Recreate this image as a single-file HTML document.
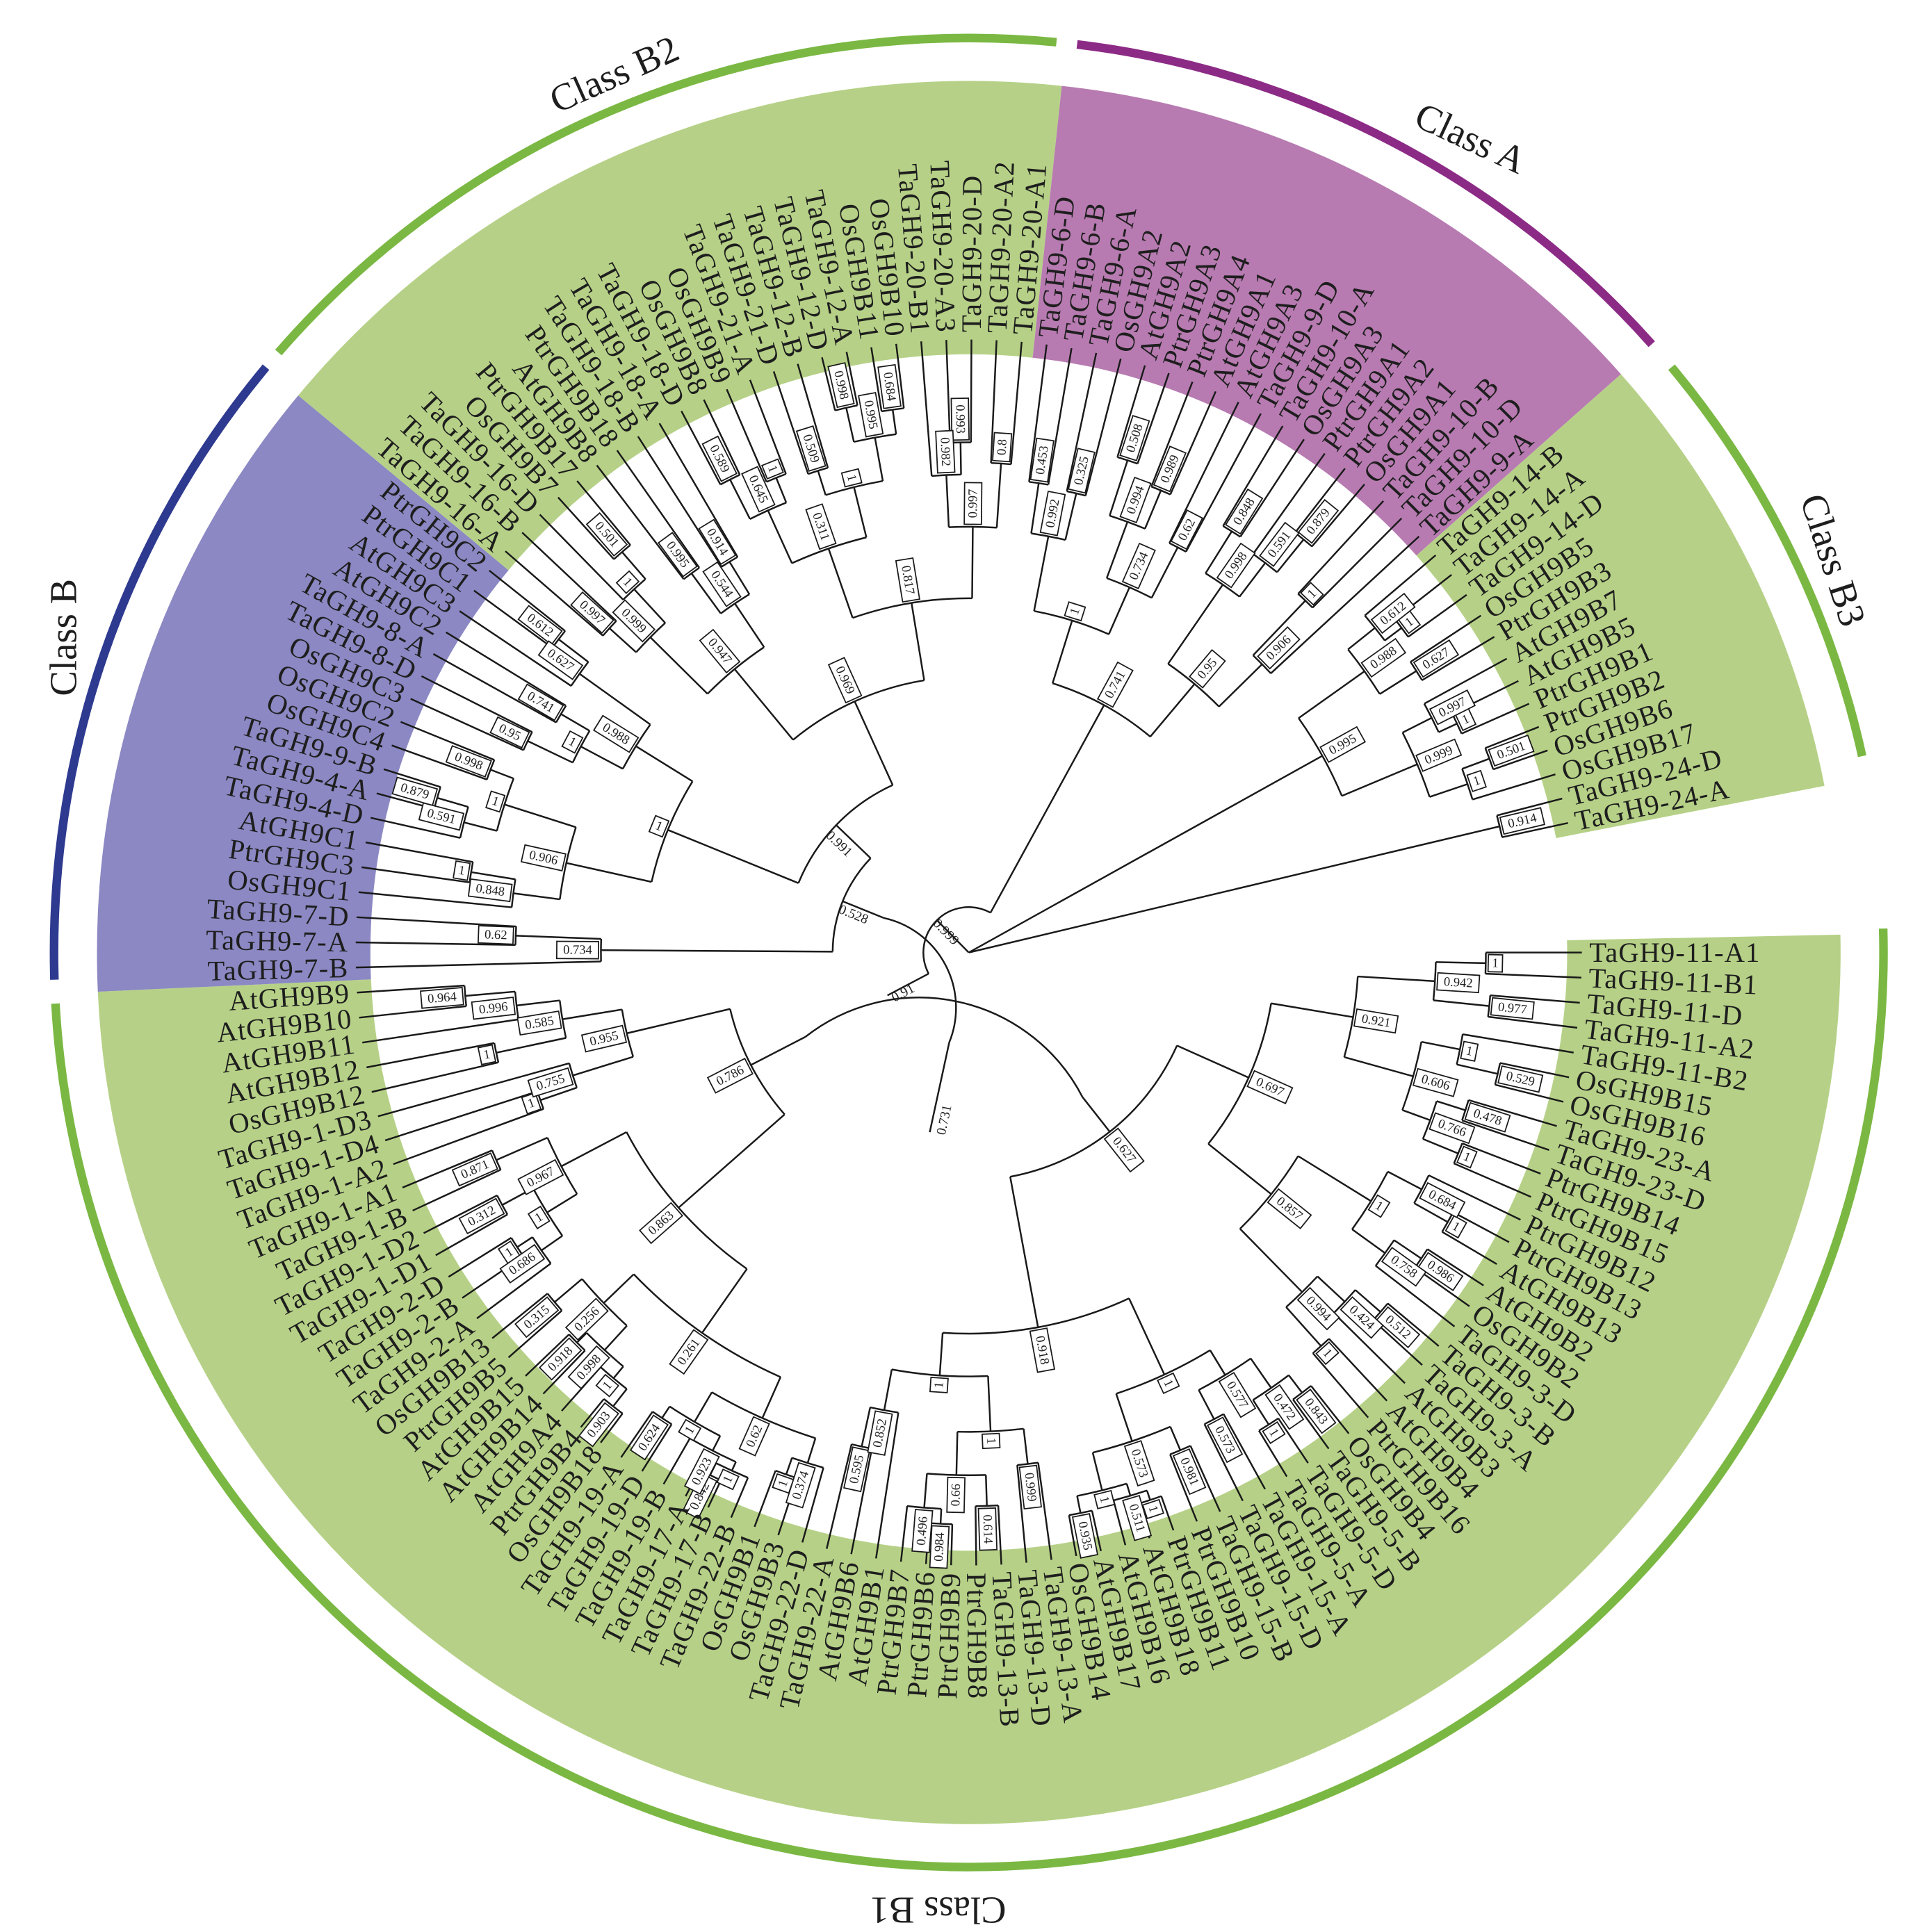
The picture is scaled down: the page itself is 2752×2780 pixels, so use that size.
<!DOCTYPE html>
<html><head><meta charset="utf-8">
<style>
html,body{margin:0;padding:0;background:#fff;}
svg{display:block;}
text{font-family:"Liberation Serif",serif;}
</style></head>
<body>
<svg id="s" xmlns="http://www.w3.org/2000/svg" width="2752" height="2780" viewBox="0 0 1560 1576">
<rect x="0" y="0" width="1560" height="1576" fill="#fff"/>
<g id="bg"></g>
<g id="arcs"></g>
<g id="tree" fill="none" stroke="#1a1a1a" stroke-width="1.4"></g>
<g id="boot"></g>
<g id="labels" fill="#1e1e1e" font-size="23" letter-spacing="0.6"></g>
<g fill="#1e1e1e" font-size="31">
<text x="505" y="70" text-anchor="middle" transform="rotate(-24 505 70)">Class B2</text>
<text x="1195" y="122" text-anchor="middle" transform="rotate(25 1195 122)">Class A</text>
<text x="1485" y="460" text-anchor="middle" transform="rotate(72 1485 460)">Class B3</text>
<text x="62" y="520" text-anchor="middle" transform="rotate(-90 62 520)">Class B</text>
<text x="765" y="1548" text-anchor="middle" transform="rotate(180 765 1548)">Class B1</text>
</g>
</svg>
<script>
(function(){
var NS="http://www.w3.org/2000/svg";
var cx=790, cy=777, TIP=500, LAB=506, STEP=2.35;
var names=[
"TaGH9-11-A1","TaGH9-11-B1","TaGH9-11-D","TaGH9-11-A2","TaGH9-11-B2","OsGH9B15","OsGH9B16","TaGH9-23-A","TaGH9-23-D","PtrGH9B14","PtrGH9B15","PtrGH9B12","PtrGH9B13","AtGH9B13","AtGH9B2","OsGH9B2","TaGH9-3-D","TaGH9-3-B","TaGH9-3-A","AtGH9B3","AtGH9B4","PtrGH9B16","OsGH9B4","TaGH9-5-B","TaGH9-5-D","TaGH9-5-A","TaGH9-15-A","TaGH9-15-D","TaGH9-15-B","PtrGH9B10","PtrGH9B11","AtGH9B18","AtGH9B16","AtGH9B17","OsGH9B14","TaGH9-13-A","TaGH9-13-D","TaGH9-13-B","PtrGH9B8","PtrGH9B9","PtrGH9B6","PtrGH9B7","AtGH9B1","AtGH9B6","TaGH9-22-A","TaGH9-22-D","OsGH9B3","OsGH9B1","TaGH9-22-B","TaGH9-17-B","TaGH9-17-A","TaGH9-19-B","TaGH9-19-D","TaGH9-19-A","OsGH9B18","PtrGH9B4","AtGH9A4","AtGH9B14","AtGH9B15","PtrGH9B5","OsGH9B13","TaGH9-2-A","TaGH9-2-B","TaGH9-2-D","TaGH9-1-D1","TaGH9-1-D2","TaGH9-1-B","TaGH9-1-A1","TaGH9-1-A2","TaGH9-1-D4","TaGH9-1-D3","OsGH9B12","AtGH9B12","AtGH9B11","AtGH9B10","AtGH9B9",
"TaGH9-7-B","TaGH9-7-A","TaGH9-7-D","OsGH9C1","PtrGH9C3","AtGH9C1","TaGH9-4-D","TaGH9-4-A","TaGH9-9-B","OsGH9C4","OsGH9C2","OsGH9C3","TaGH9-8-D","TaGH9-8-A","AtGH9C2","AtGH9C3","PtrGH9C1","PtrGH9C2",
"TaGH9-16-A","TaGH9-16-B","TaGH9-16-D","OsGH9B7","PtrGH9B17","AtGH9B8","PtrGH9B18","TaGH9-18-B","TaGH9-18-A","TaGH9-18-D","OsGH9B8","OsGH9B9","TaGH9-21-A","TaGH9-21-D","TaGH9-12-B","TaGH9-12-D","TaGH9-12-A","OsGH9B11","OsGH9B10","TaGH9-20-B1","TaGH9-20-A3","TaGH9-20-D","TaGH9-20-A2","TaGH9-20-A1",
"TaGH9-6-D","TaGH9-6-B","TaGH9-6-A","OsGH9A2","AtGH9A2","PtrGH9A3","PtrGH9A4","AtGH9A1","AtGH9A3","TaGH9-9-D","TaGH9-10-A","OsGH9A3","PtrGH9A1","PtrGH9A2","OsGH9A1","TaGH9-10-B","TaGH9-10-D","TaGH9-9-A",
"TaGH9-14-B","TaGH9-14-A","TaGH9-14-D","OsGH9B5","PtrGH9B3","AtGH9B7","AtGH9B5","PtrGH9B1","PtrGH9B2","OsGH9B6","OsGH9B17","TaGH9-24-D","TaGH9-24-A"];
function rad(a){return a*Math.PI/180;}
function P(r,a){return [cx+r*Math.cos(rad(a)), cy+r*Math.sin(rad(a))];}
function el(tag,attrs,parent,txt){var e=document.createElementNS(NS,tag);for(var k in attrs)e.setAttribute(k,attrs[k]);if(txt!=null)e.textContent=txt;parent.appendChild(e);return e;}
function annular(r1,r2,a1,a2){var p1=P(r2,a1),p2=P(r2,a2),p3=P(r1,a2),p4=P(r1,a1);var lg=(a2-a1)>180?1:0;
return "M"+p1+" A"+r2+" "+r2+" 0 "+lg+" 1 "+p2+" L"+p3+" A"+r1+" "+r1+" 0 "+lg+" 0 "+p4+" Z";}
function arcPath(r,a1,a2){var p1=P(r,a1),p2=P(r,a2);var lg=(a2-a1)>180?1:0;return "M"+p1+" A"+r+" "+r+" 0 "+lg+" 1 "+p2;}
var bg=document.getElementById("bg");
var h=STEP/2;
var G="#b6d187",PU="#b77bb1",BL="#8b88c3";
el("path",{d:annular(488,711,-h,75*STEP+h),fill:G},bg);
el("path",{d:annular(488,711,76*STEP-h,93*STEP+h),fill:BL},bg);
el("path",{d:annular(488,711,94*STEP-h,117*STEP+h),fill:G},bg);
el("path",{d:annular(488,711,118*STEP-h,135*STEP+h),fill:PU},bg);
el("path",{d:annular(488,711,136*STEP-h,148*STEP+h),fill:G},bg);
var arcs=document.getElementById("arcs");
function oarc(a1,a2,c){el("path",{d:arcPath(746,a1,a2),fill:"none",stroke:c,"stroke-width":7},arcs);}
oarc(-1.5,176.8,"#7bb843");
oarc(178.3,219.8,"#2e3a8f");
oarc(221,275.5,"#7bb843");
oarc(276.8,318.3,"#8c2b86");
oarc(320.2,347.6,"#7bb843");
var lab=document.getElementById("labels");
names.forEach(function(n,i){var a=i*STEP;var p=P(LAB,a);var c=Math.cos(rad(a));
 if(c>=-0.0001){el("text",{x:p[0],y:p[1],"dominant-baseline":"central","text-anchor":"start",transform:"rotate("+a+" "+p[0]+" "+p[1]+")"},lab,n);}
 else{el("text",{x:p[0],y:p[1],"dominant-baseline":"central","text-anchor":"end",transform:"rotate("+(a+180)+" "+p[0]+" "+p[1]+")"},lab,n);}
});
var seed=7;function rnd(){seed=(seed*9301+49297)%233280;return seed/233280;}
function auto(lo,hi,r){if(lo==hi)return {leaf:lo};var n=hi-lo+1;var m=lo+Math.floor((n-1)*(0.3+0.45*rnd()));if(m>=hi)m=hi-1;if(m<lo)m=lo;
 var k=[];[[lo,m],[m+1,hi]].forEach(function(g){if(g[0]==g[1])k.push({leaf:g[0]});else k.push(auto(g[0],g[1],r+(TIP-r)*(0.18+0.22*rnd())));});
 return {r:r,kids:k};}
function node(r){return {r:r,kids:Array.prototype.slice.call(arguments,1)};}
var N991=node(150,auto(79,93,265),auto(94,117,225));
var N528=node(111,auto(76,78,300),N991);
var N731=node(150,auto(45,75,200),auto(0,44,186));
var N91=node(75,N528,N731);
var N999=node(37,N91,auto(118,135,230));
var root=node(0,N999,auto(136,146,330),auto(147,148,445));
root.plain="";N999.plain="0.999";N91.plain="0.91";N528.plain="0.528";N731.plain="0.731";N991.plain="0.991";
function ang(nd){if(nd.leaf!=null){nd.a=nd.leaf*STEP;nd.rr=TIP;return nd.a;}nd.kids.forEach(ang);nd.a=(nd.kids[0].a+nd.kids[nd.kids.length-1].a)/2;nd.rr=nd.r;return nd.a;}
ang(root);
var tree=document.getElementById("tree"),boot=document.getElementById("boot");
var vals=["0.62","0.734","1","0.848","0.879","0.591","0.998","1","0.906","0.95","0.741","1","0.612","0.627","0.988","1","0.997","0.501","1","0.999","0.995","0.914","0.544","0.947","0.589","1","0.645","0.509","0.998","0.684","0.995","1","0.311","0.993","0.982","0.8","0.997","0.817","0.969","1","0.374","0.842","1","0.923","0.624","1","0.62","0.903","1","0.918","0.998","0.315","0.256","0.261","1","0.686","0.312","1","0.871","0.967","0.863","1","0.755","1","0.964","0.996","0.585","0.955","0.786","1","0.977","0.942","0.529","1","0.478","1","0.766","0.606","0.921","1","0.684","0.986","0.758","1","0.512","0.424","1","0.994","0.857","0.697","0.843","1","0.472","0.573","0.577","0.981","1","0.511","0.935","1","0.573","1","0.999","0.614","0.984","0.496","0.66","1","0.595","0.852","1","0.918","0.627","0.453","0.325","0.992","0.508","0.989","0.994"];
var vi=0;
function draw(nd){if(nd.leaf!=null)return;
 var a1=nd.kids[0].a,a2=nd.kids[nd.kids.length-1].a;
 if(nd.r>0)el("path",{d:arcPath(nd.r,a1,a2)},tree);
 nd.kids.forEach(function(k){var p1=P(nd.r,k.a),p2=P(k.rr,k.a);el("line",{x1:p1[0],y1:p1[1],x2:p2[0],y2:p2[1]},tree);draw(k);});
 var c=Math.cos(rad(nd.a));var rot=c>=0?nd.a:nd.a+180;
 if(nd.plain!=null){if(nd.plain){var p=P(nd.r-12,nd.a-4);el("text",{x:p[0],y:p[1],"font-size":11,fill:"#222","text-anchor":"middle","dominant-baseline":"central",transform:"rotate("+rot+" "+p[0]+" "+p[1]+")"},boot,nd.plain);}return;}
 var v=vals[vi%vals.length];vi++;var w=v.length*5.6+6;var pc=P(nd.r+w/2+2,nd.a);
 var g=el("g",{transform:"rotate("+rot+" "+pc[0]+" "+pc[1]+")"},boot);
 el("rect",{x:pc[0]-w/2,y:pc[1]-7,width:w,height:14,fill:"#fff",stroke:"#1a1a1a","stroke-width":1},g);
 el("text",{x:pc[0],y:pc[1],"font-size":10.5,fill:"#222","text-anchor":"middle","dominant-baseline":"central"},g,v);
}
draw(root);
})();
</script>
</body></html>
